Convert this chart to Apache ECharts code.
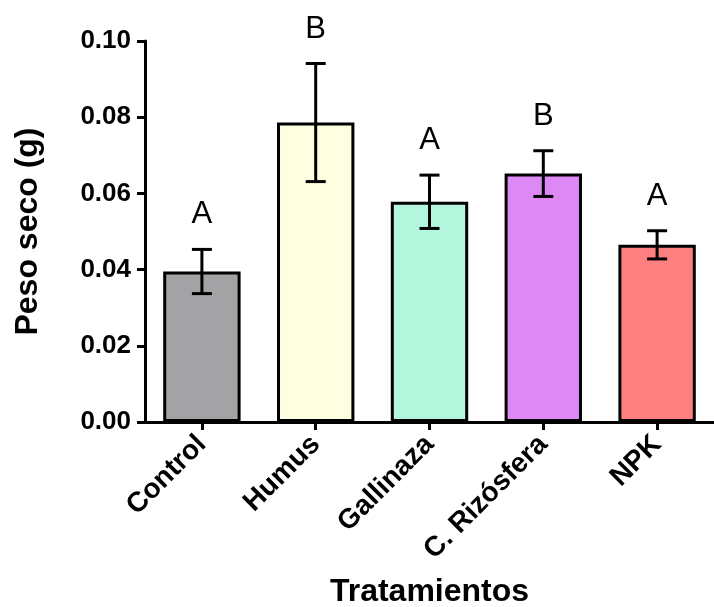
<!DOCTYPE html>
<html>
<head>
<meta charset="utf-8">
<script src="https://cdn.jsdelivr.net/npm/echarts@6/dist/echarts.min.js"></script>
<style>html,body{margin:0;padding:0;background:#fff}#c{width:714px;height:607px}</style>
</head>
<body>
<div id="c"></div>
<script>
const categories = ['Control', 'Humus', 'Gallinaza', 'C. Rizósfera', 'NPK'];
const means = [0.0395, 0.0786, 0.0578, 0.0652, 0.0465];
const errors = [0.0058, 0.0155, 0.0070, 0.0060, 0.0037];
const letters = ['A', 'B', 'A', 'B', 'A'];
const colors = ['#a3a3a6', '#fefee0', '#b3f5dd', '#dc88f5', '#fe7f7f'];
const yTicks = [0, 0.02, 0.04, 0.06, 0.08, 0.10];

const FONT = 'Liberation Sans, Arial, sans-serif';
const chart = echarts.init(document.getElementById('c'), null, {renderer: 'canvas'});

const errData = means.map((m, i) => [i, m - errors[i], m + errors[i], letters[i]]);

chart.setOption({
  animation: false,
  backgroundColor: '#ffffff',
  grid: {left: 145, right: 0, top: 41, bottom: 185, containLabel: false, outerBoundsMode: 'none'},
  xAxis: {
    type: 'category',
    data: categories,
    boundaryGap: true,
    name: 'Tratamientos',
    nameLocation: 'middle',
    nameGap: 154,
    nameTextStyle: {fontFamily: FONT, fontWeight: 'bold', fontSize: 32, color: '#000'},
    axisLine: {lineStyle: {color: '#000', width: 3}},
    axisTick: {show: true, alignWithLabel: true, length: 8, lineStyle: {color: '#000', width: 3}},
    axisLabel: {rotate: 45, margin: 18, fontFamily: FONT, fontWeight: 'bold', fontSize: 28, color: '#000', interval: 0},
    splitLine: {show: false}
  },
  yAxis: {
    type: 'value',
    min: 0,
    max: 0.1,
    interval: 0.02,
    name: 'Peso seco (g)',
    nameLocation: 'middle',
    nameGap: 101,
    nameRotate: 90,
    nameTextStyle: {fontFamily: FONT, fontWeight: 'bold', fontSize: 32, color: '#000'},
    axisLine: {show: true, lineStyle: {color: '#000', width: 3}},
    axisTick: {show: true, length: 8, lineStyle: {color: '#000', width: 3}},
    axisLabel: {margin: 14, fontFamily: FONT, fontWeight: 'bold', fontSize: 26, color: '#000',
      formatter: v => {
        const t = yTicks.find(x => Math.abs(x - v) < 1e-9);
        return (t !== undefined ? t : v).toFixed(2);
      }},
    splitLine: {show: false}
  },
  series: [
    {
      type: 'bar',
      data: means.map((m, i) => ({value: m, itemStyle: {color: colors[i]}})),
      barWidth: '68%',
      itemStyle: {borderColor: '#000', borderWidth: 3},
      z: 2
    },
    {
      type: 'custom',
      data: errData,
      z: 5,
      renderItem: function (params, api) {
        const x = api.value(0);
        const lo = api.coord([x, api.value(1)]);
        const hi = api.coord([x, api.value(2)]);
        const cap = 10;
        const style = {stroke: '#000', lineWidth: 3};
        return {
          type: 'group',
          children: [
            {type: 'line', shape: {x1: lo[0], y1: lo[1], x2: hi[0], y2: hi[1]}, style: style},
            {type: 'line', shape: {x1: hi[0] - cap, y1: hi[1], x2: hi[0] + cap, y2: hi[1]}, style: style},
            {type: 'line', shape: {x1: lo[0] - cap, y1: lo[1], x2: lo[0] + cap, y2: lo[1]}, style: style},
            {type: 'text', style: {text: api.value(3), x: hi[0], y: hi[1] - 19, textAlign: 'center', textVerticalAlign: 'bottom',
              fontFamily: FONT, fontSize: 31, fontWeight: 'normal', fill: '#000'}}
          ]
        };
      }
    }
  ]
});
</script>
</body>
</html>
